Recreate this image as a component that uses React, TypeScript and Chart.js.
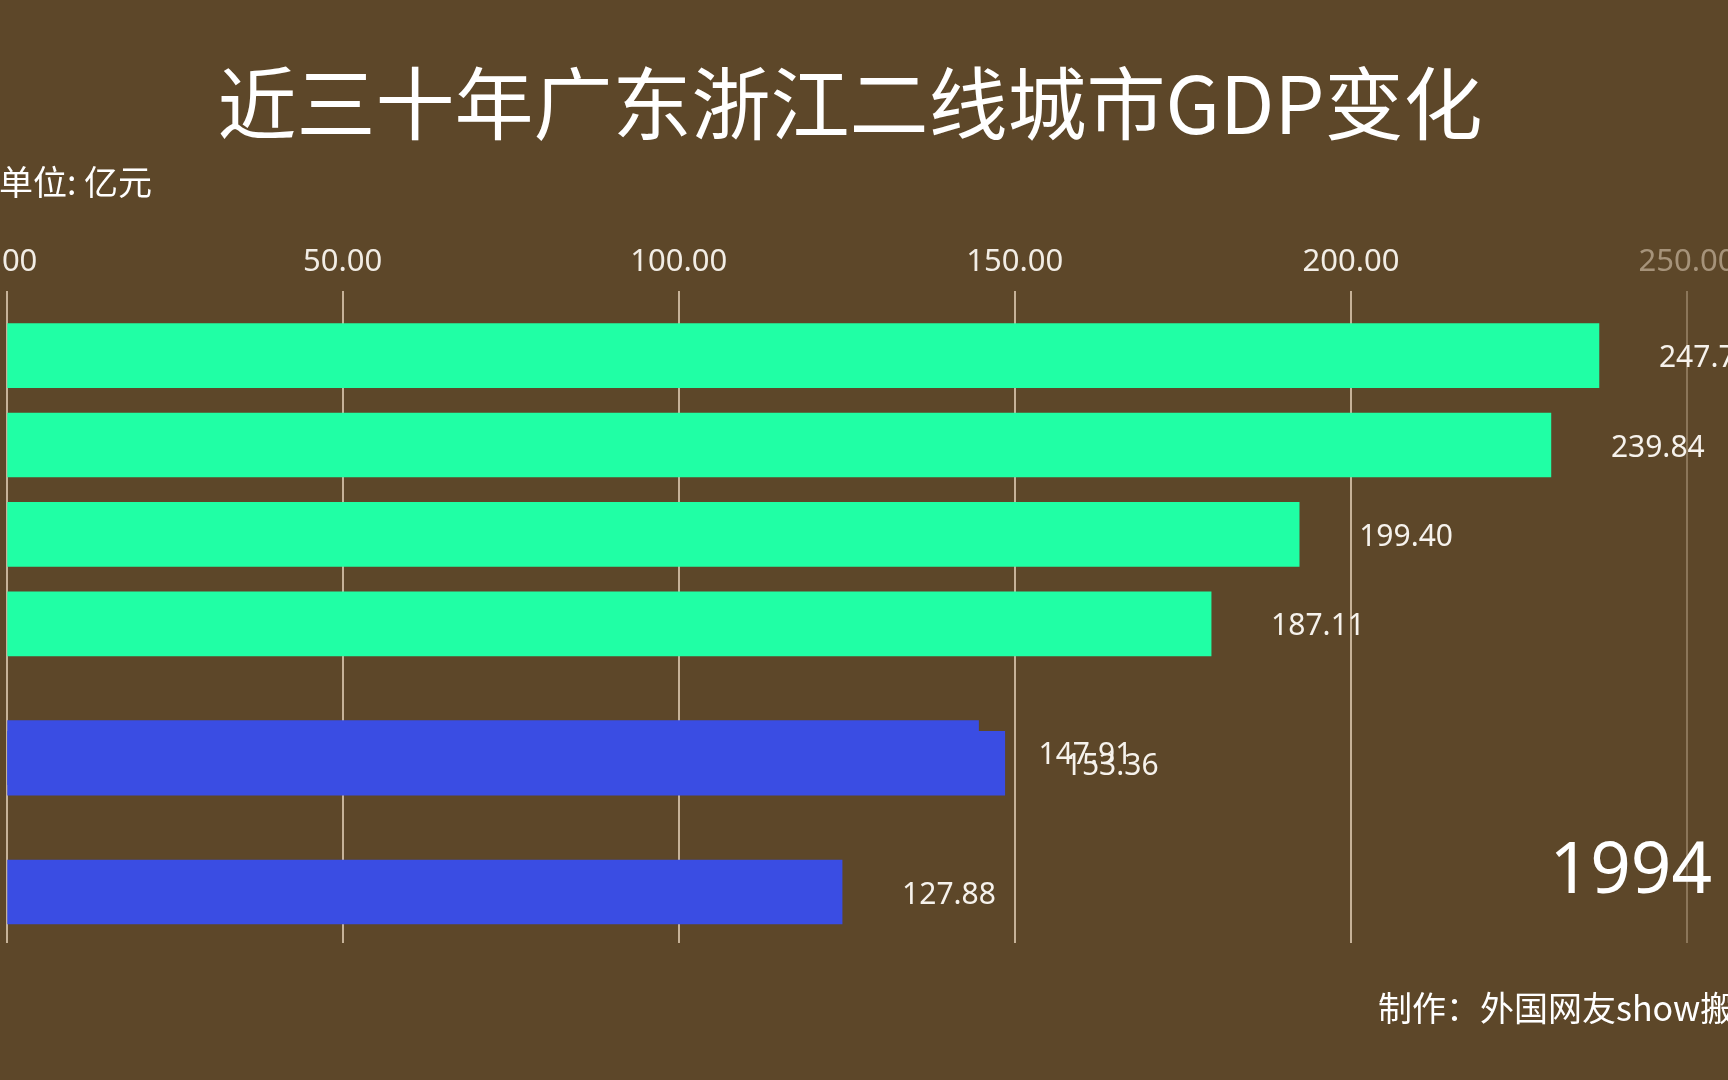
import React, { useEffect, useRef } from "react";
import { Chart, registerables } from "chart.js";

Chart.register(...registerables);

// ---- data (year 1994, mid-animation) ----
const barValues = [236.9, 229.75, 192.3, 179.2, 144.6, 148.5, 124.3];
const valueLabels = ["247.72", "239.84", "199.40", "187.11", "147.91", "153.36", "127.88"];
const barRanks = [0, 1, 2, 3, 4.44, 4.56, 6];
const barColors = ["#20FFA5", "#20FFA5", "#20FFA5", "#20FFA5", "#3A4DE3", "#3A4DE3", "#3A4DE3"];
const xTicks = [0, 50, 100, 150, 200, 250];
const titleText = "近三十年广东浙江二线城市GDP变化";
const unitText = "单位: 亿元";
const yearText = "1994";
const creditText = "制作：外国网友show搬运";

const BG = "#5D4729";
const CJK = '"Noto Sans CJK SC", "Noto Sans", sans-serif';
const NUM = '"Noto Sans", "Noto Sans CJK SC", sans-serif';

const overlay = {
  id: "overlay",
  beforeDraw(chart: any) {
    const { ctx, width, height } = chart;
    ctx.save();
    ctx.fillStyle = BG;
    ctx.fillRect(0, 0, width, height);
    ctx.restore();
  },
  afterDatasetsDraw(chart: any) {
    const { ctx } = chart;
    const meta = chart.getDatasetMeta(0);
    ctx.save();
    ctx.fillStyle = "#F6F2EC";
    ctx.textBaseline = "middle";
    ctx.textAlign = "left";
    ctx.font = `30px ${NUM}`;
    meta.data.forEach((bar: any, i: number) => {
      ctx.fillText(valueLabels[i], bar.x + 60, bar.y + 3);
    });

    // title
    ctx.fillStyle = "#FFFFFF";
    ctx.textAlign = "center";
    ctx.font = `79px ${CJK}`;
    ctx.fillText(titleText, 850, 104);

    // unit
    ctx.textAlign = "left";
    ctx.font = `34px ${CJK}`;
    ctx.fillText(unitText, -1, 182);

    // year
    ctx.textAlign = "right";
    ctx.textBaseline = "alphabetic";
    ctx.font = `71px ${NUM}`;
    ctx.fillText(yearText, 1712, 893);

    // credit
    ctx.textAlign = "left";
    ctx.textBaseline = "middle";
    ctx.font = `34px ${CJK}`;
    ctx.fillText(creditText, 1378, 1008);
    ctx.restore();
  },
};

export default function App() {
  const ref = useRef<HTMLCanvasElement | null>(null);

  useEffect(() => {
    if (!ref.current) return;
    const chart = new Chart(ref.current, {
      type: "bar",
      data: {
        datasets: [
          {
            data: barValues.map((v, i) => ({ x: v, y: barRanks[i] })),
            backgroundColor: barColors,
            borderWidth: 0,
            barThickness: 64,
          } as any,
        ],
      },
      options: {
        animation: false,
        responsive: false,
        maintainAspectRatio: false,
        indexAxis: "y",
        layout: { padding: { left: 6.6, right: 41, top: 234, bottom: 137 } },
        plugins: {
          legend: { display: false },
          tooltip: { enabled: false },
          title: { display: false },
        },
        scales: {
          x: {
            type: "linear",
            position: "top",
            min: xTicks[0],
            max: xTicks[xTicks.length - 1],
            afterBuildTicks: (s: any) => {
              s.ticks = xTicks.map((v) => ({ value: v }));
            },
            afterFit: (s: any) => {
              s.paddingLeft = 0;
              s.paddingRight = 0;
            },
            ticks: {
              autoSkip: false,
              maxRotation: 0,
              padding: 10,
              callback: (v: any) => Number(v).toFixed(2),
              color: (c: any) => (c.tick && c.tick.value === 250 ? "rgba(225,210,190,0.55)" : "#F2EDE5"),
              font: { family: NUM, size: 31 },
            },
            grid: {
              drawTicks: false,
              lineWidth: 2,
              color: (c: any) =>
                c.tick && c.tick.value === 250 ? "rgba(225,205,180,0.35)" : "rgba(225,205,180,0.8)",
            },
            border: { display: false },
          } as any,
          y: {
            type: "linear",
            display: false,
            reverse: true,
            offset: false,
            grace: 0,
            min: -0.72,
            max: 6.57,
          } as any,
        },
      },
      plugins: [overlay],
    });
    return () => chart.destroy();
  }, []);

  return (
    <div style={{ position: "fixed", left: 0, top: 0, width: 1728, height: 1080, background: BG }}>
      <canvas ref={ref} width={1728} height={1080} style={{ display: "block", width: 1728, height: 1080 }} />
    </div>
  );
}
